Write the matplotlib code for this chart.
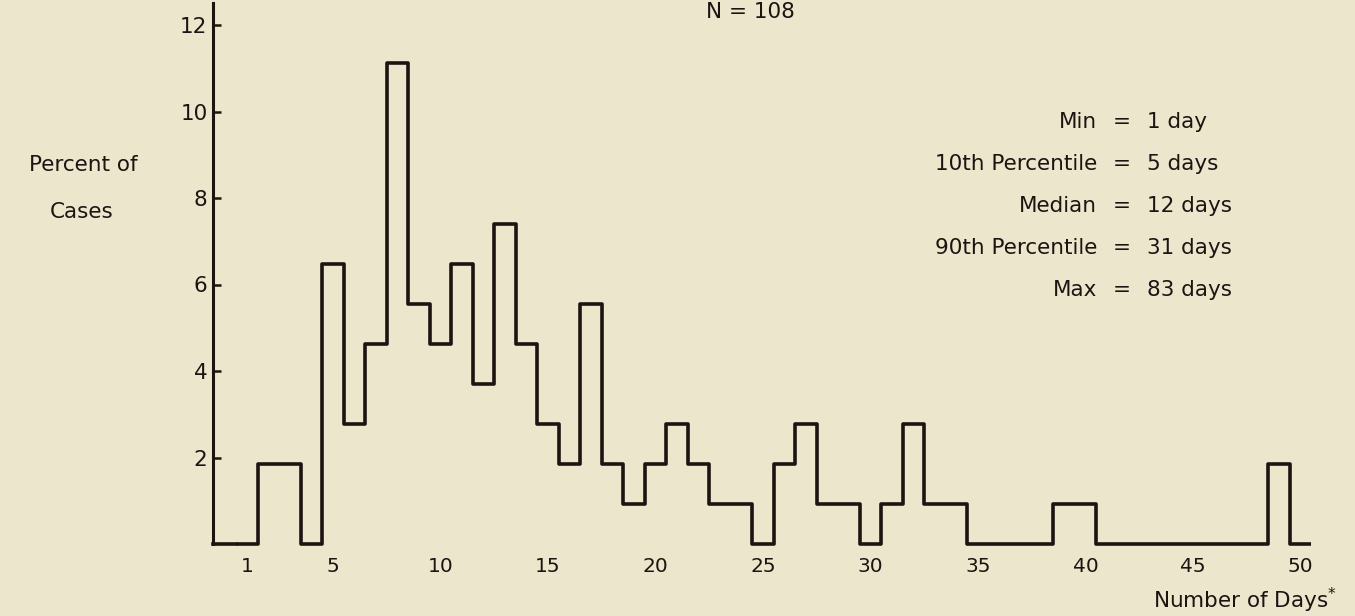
import numpy as np
import matplotlib
matplotlib.use("Agg")
import matplotlib.pyplot as plt

# percent of cases for each day (bins centred on whole days)
days = list(range(1, 51))
percent = [0, 1.85, 1.85, 0, 6.48, 2.78, 4.63, 11.11, 5.56, 4.63,
           6.48, 3.70, 7.41, 4.63, 2.78, 1.85, 5.56, 1.85, 0.93, 1.85,
           2.78, 1.85, 0.93, 0.93, 0, 1.85, 2.78, 0.93, 0.93, 0,
           0.93, 2.78, 0.93, 0.93, 0, 0, 0, 0, 0.93, 0.93,
           0, 0, 0, 0, 0, 0, 0, 0, 1.85, 0]

xtick_vals = [1, 5, 10, 15, 20, 25, 30, 35, 40, 45, 50]
ytick_vals = [2, 4, 6, 8, 10, 12]

stat_names = ["Min", "10th Percentile", "Median", "90th Percentile", "Max"]
stat_values = ["1 day", "5 days", "12 days", "31 days", "83 days"]

bg = "#ece6cd"
ink = "#1c1411"
plt.rcParams["font.family"] = ["DejaVu Sans"]

W, H = 1355, 616
fig = plt.figure(figsize=(W / 100, H / 100), dpi=100, facecolor=bg)

# axes box in pixels: left edge at the y axis, bottom at the baseline
x0, x1 = -0.58, 52.0
left_px, bot_px, top_px = 213, 544, 7.7
px_per_day = 21.5
ax = fig.add_axes([left_px / W, 1 - bot_px / H,
                   (x1 - x0) * px_per_day / W, (bot_px - top_px) / H])
ax.set_facecolor(bg)
ax.set_xlim(x0, x1)
ax.set_ylim(0, 12.4)

edges = np.arange(days[0] - 0.5, days[-1] + 1)
ax.stairs(percent, edges, baseline=0, fill=False, color=ink, lw=2.6,
          joinstyle="round", clip_on=False)
ax.plot([x0, edges[0]], [0, 0], color=ink, lw=2.6, clip_on=False)

for s in ["top", "right", "bottom"]:
    ax.spines[s].set_visible(False)
ax.spines["left"].set_bounds(0, 12.5)
ax.spines["left"].set_linewidth(2.2)
ax.spines["left"].set_color(ink)

ax.set_yticks(ytick_vals)
ax.set_yticklabels([str(v) for v in ytick_vals])
ax.tick_params(axis="y", direction="in", length=6, width=1.8, color=ink,
               labelsize=15.5, labelcolor=ink, pad=4)
ax.set_xticks(xtick_vals)
ax.set_xticklabels([str(v) for v in xtick_vals])
ax.tick_params(axis="x", length=0, labelsize=14.5, labelcolor=ink, pad=9)

# axis titles
fig.text(83 / W, 1 - 165 / H, "Percent of", ha="center", va="center",
         fontsize=15.5, color=ink)
fig.text(82 / W, 1 - 212 / H, "Cases", ha="center", va="center",
         fontsize=15.5, color=ink)
fig.text(1337 / W, 1 - 600 / H, "Number of Days$^{*}$", ha="right",
         va="center", fontsize=15.5, color=ink)

fig.text(750 / W, 1 - 2 / H, "N = 108", ha="center", va="top",
         fontsize=15.5, color=ink)

# summary statistics
for i, (name, val) in enumerate(zip(stat_names, stat_values)):
    y = 1 - (122 + 42 * i) / H
    fig.text(1097 / W, y, name, ha="right", va="center", fontsize=15.5, color=ink)
    fig.text(1122 / W, y, "=", ha="center", va="center", fontsize=15.5, color=ink)
    fig.text(1147 / W, y, val, ha="left", va="center", fontsize=15.5, color=ink)

fig.savefig("out.png", dpi=100, facecolor=bg)
